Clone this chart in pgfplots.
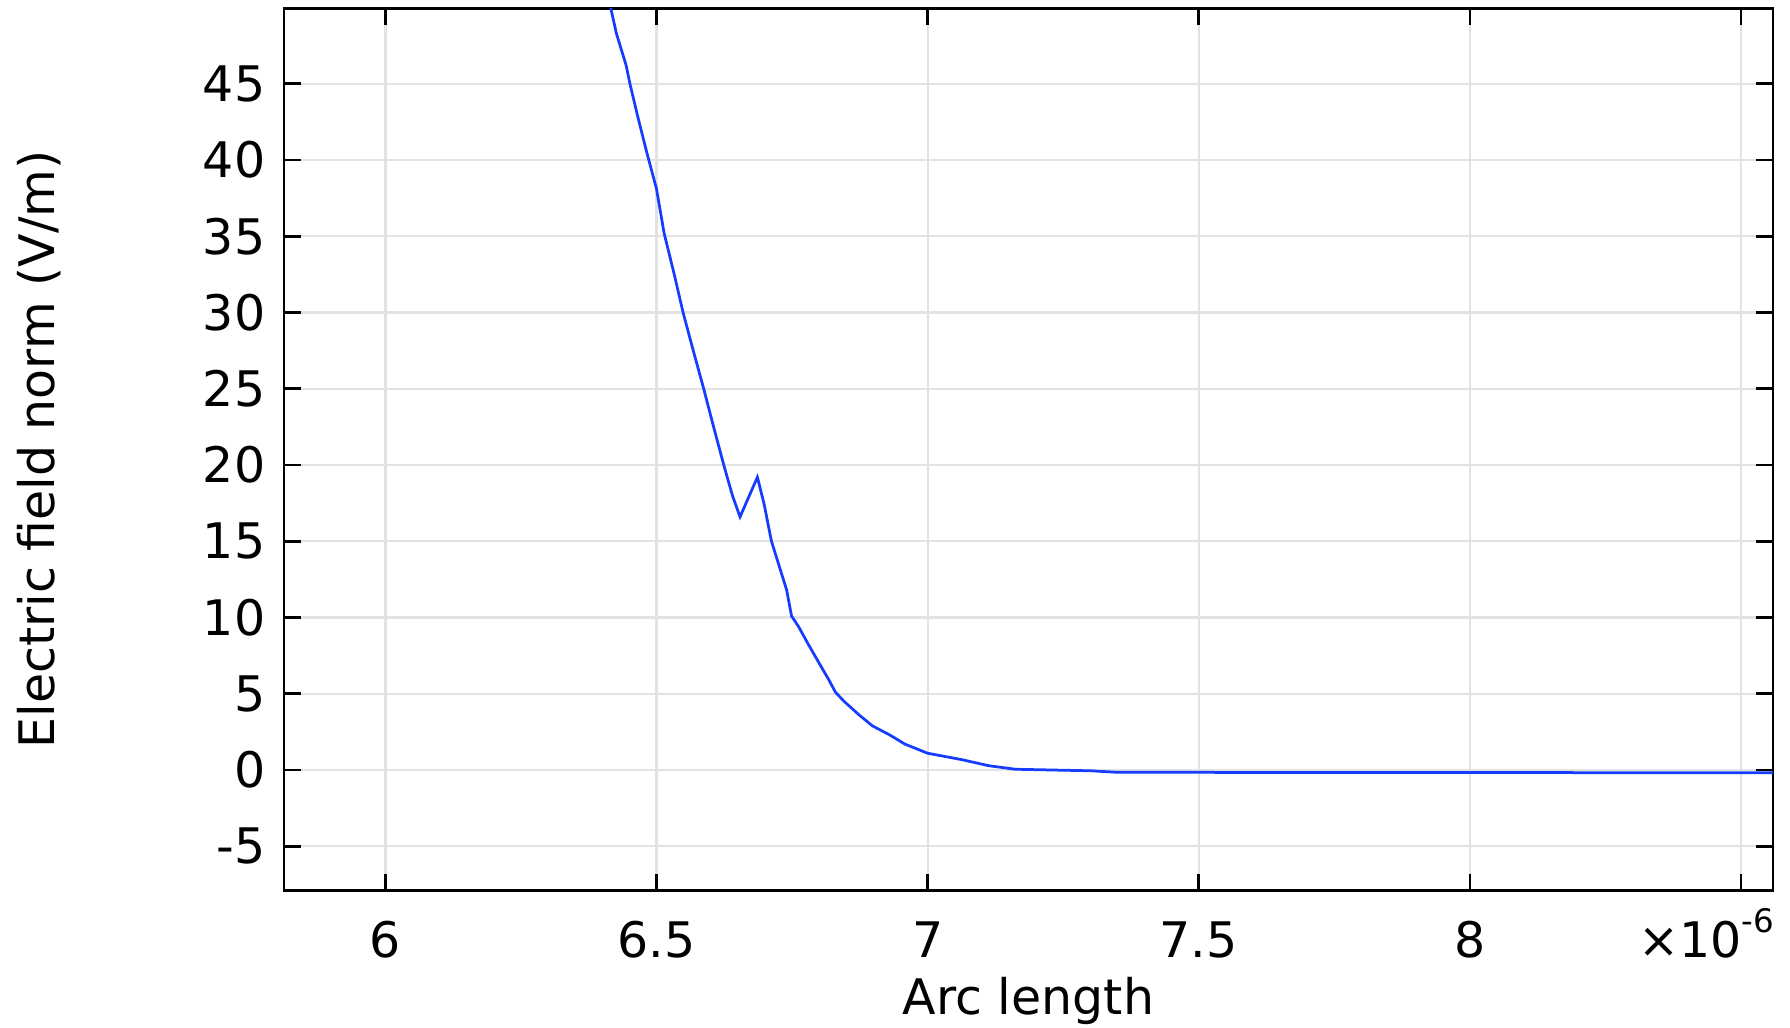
\documentclass[border=0pt]{standalone}
\usepackage{fontspec}
\setmainfont{DejaVu Sans}
\usepackage{pgfplots}
\pgfplotsset{compat=1.18}
\definecolor{gridgray}{RGB}{226,226,226}
\definecolor{lineblue}{RGB}{22,60,255}
\begin{document}
\begin{tikzpicture}
\begin{axis}[
  scale only axis,
  width=297.8pt, height=176.5pt,
  xmin=5.813, xmax=8.559,
  ymin=-7.92, ymax=49.95,
  xtick={6,6.5,7,7.5,8,8.5},
  xticklabels={6,6.5,7,7.5,8,{}},
  ytick={-5,0,5,10,15,20,25,30,35,40,45},
  /pgf/number format/assume math mode=true,
  grid=major,
  major grid style={color=gridgray, line width=0.45pt},
  axis line style={black, line width=0.55pt},
  tick style={black, line width=0.55pt},
  major tick length=3.4pt,
  tick align=inside,
  tick pos=both,
  ticklabel style={font=\fontsize{9.8}{11}\selectfont},
  xticklabel style={anchor=base, yshift=-13.4pt},
  yticklabel style={anchor=east, xshift=-0.2pt},
  xlabel={Arc length},
  ylabel={Electric field norm (V/m)},
  label style={font=\fontsize{9.8}{11}\selectfont},
  xlabel style={at={(axis description cs:0.5,0)}, anchor=base, yshift=-24.8pt},
  ylabel style={at={(axis description cs:0,0.5)}, anchor=center, yshift=49pt},
]
\addplot[lineblue, line width=0.55pt] coordinates {
(6.405,51.7) (6.416,49.9) (6.426,48.3) (6.444,46.2) (6.451,45.0)
(6.465,42.9) (6.482,40.5) (6.500,38.1) (6.514,35.2) (6.532,32.6)
(6.549,30.0) (6.567,27.6) (6.587,25.0) (6.606,22.4) (6.624,20.0)
(6.640,18.0) (6.654,16.6) (6.670,17.9) (6.686,19.2) (6.698,17.5)
(6.712,15.0) (6.726,13.4) (6.740,11.8) (6.749,10.1) (6.762,9.4)
(6.779,8.3) (6.800,7.0) (6.818,5.9) (6.830,5.1) (6.846,4.5)
(6.874,3.6) (6.898,2.9) (6.930,2.3) (6.958,1.7) (7.000,1.1)
(7.063,0.68) (7.113,0.28) (7.162,0.05) (7.30,-0.05) (7.35,-0.15)
(8.56,-0.18)
};
\end{axis}
\node[anchor=base east, inner sep=0pt, font=\fontsize{9.8}{11}\selectfont]
  at ([xshift=0.4pt,yshift=-13.4pt]current axis.south east)
  {×10\raisebox{5pt}{\fontsize{6.5}{7}\selectfont -6}};
\pgfresetboundingbox
\path[use as bounding box] ([xshift=-56.8pt,yshift=-27.4pt]current axis.south west) rectangle ([xshift=3.4pt,yshift=1.66pt]current axis.north east);
\end{tikzpicture}
\end{document}
